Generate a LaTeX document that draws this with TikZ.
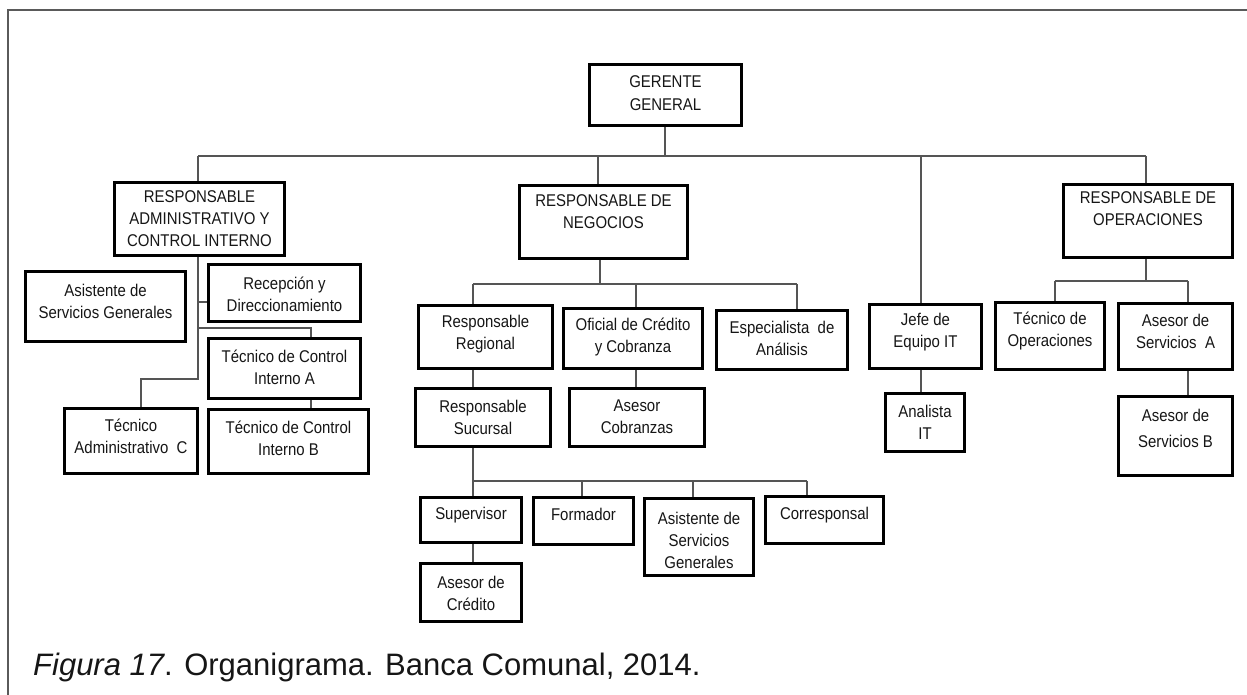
\documentclass[tikz,border=0pt]{standalone}
\usepackage{fontspec}
\setmainfont{Liberation Sans}
\newfontfamily\boxfont{Liberation Sans}[FakeStretch=0.88]
\definecolor{inkc}{HTML}{161616}
\definecolor{linec}{HTML}{555555}
\definecolor{framec}{HTML}{5A5A5A}

\tikzset{
  obox/.style={rectangle, draw=black, line width=3.2pt, fill=white, inner sep=0pt},
  otext/.style={inner sep=0pt, align=center, text=inkc,
                font=\boxfont\fontsize{17}{22}\selectfont},
  conn/.style={draw=linec, line width=1.4pt},
  frameline/.style={draw=framec, line width=1.5pt}
}

% \orgbox{name}{x1}{y1}{x2}{y2}{text y}{text}
\newcommand\orgbox[7]{%
  \node[obox, minimum width={(#4-#2-3.2)*1pt}, minimum height={(#5-#3-3.2)*1pt}]
    (#1) at ({(#2+#4)/2},{(#3+#5)/2}) {};
  \node[otext] (#1t) at ({(#2+#4)/2},#6) {#7};
}

\begin{document}
\begin{tikzpicture}[x=1pt,y=-1pt]
\useasboundingbox (0,0) rectangle (1247,695);

% page frame
\draw[frameline] (8,695) -- (8,10) -- (1247,10);

% connector points
\coordinate (gb) at (665,156);
\coordinate (bA) at (198,156);
\coordinate (bN) at (598,156);
\coordinate (bJ) at (921,156);
\coordinate (bO) at (1146,156);

\coordinate (aR) at (198,302);
\coordinate (aT) at (198,328);
\coordinate (aC) at (198,379);
\coordinate (kT) at (311,328);
\coordinate (kC) at (141,379);

\coordinate (nB) at (600,284);
\coordinate (nb1) at (473,284);
\coordinate (nb2) at (636,284);
\coordinate (nb3) at (797,284);

\coordinate (sB) at (473,481);
\coordinate (sb2) at (582,481);
\coordinate (sb3) at (693,481);
\coordinate (sb4) at (807,481);

\coordinate (oB) at (1146,281);
\coordinate (o1) at (1055,281);
\coordinate (o2) at (1188,281);

% connectors
\draw[conn] (bA) -- (bO);
\draw[conn] (gb) -- (gb |- 0,127);
\draw[conn] (bA) -- (bA |- 0,181);
\draw[conn] (bN) -- (bN |- 0,184);
\draw[conn] (bJ) -- (bJ |- 0,303);
\draw[conn] (bO) -- (bO |- 0,183);

\draw[conn] (bA |- 0,257) -- (aC) -- (kC) -- (kC |- 0,407);
\draw[conn] (aR) -- (aR -| 207,0);
\draw[conn] (aT) -- (kT) -- (kT |- 0,337);
\draw[conn] (kT |- 0,400) -- (kT |- 0,408);

\draw[conn] (nB |- 0,260) -- (nB);
\draw[conn] (nb1) -- (nb3);
\draw[conn] (nb1) -- (nb1 |- 0,304);
\draw[conn] (nb2) -- (nb2 |- 0,307);
\draw[conn] (nb3) -- (nb3 |- 0,309);
\draw[conn] (nb1 |- 0,370) -- (nb1 |- 0,387);
\draw[conn] (nb2 |- 0,370) -- (nb2 |- 0,387);

\draw[conn] (sB |- 0,448) -- (sB) -- (sb4);
\draw[conn] (sB) -- (sB |- 0,496);
\draw[conn] (sb2) -- (sb2 |- 0,496);
\draw[conn] (sb3) -- (sb3 |- 0,497);
\draw[conn] (sb4) -- (sb4 |- 0,495);
\draw[conn] (sB |- 0,544) -- (sB |- 0,562);

\draw[conn] (bJ |- 0,370) -- (bJ |- 0,392);

\draw[conn] (oB |- 0,259) -- (oB);
\draw[conn] (o1) -- (o2);
\draw[conn] (o1) -- (o1 |- 0,301);
\draw[conn] (o2) -- (o2 |- 0,302);
\draw[conn] (o2 |- 0,371) -- (o2 |- 0,395);

% boxes
\orgbox{ger}{588}{63}{743}{127}{93.5}{GERENTE\\[1pt]GENERAL}
\orgbox{adm}{113}{181}{286}{257}{219}{RESPONSABLE\\ADMINISTRATIVO Y\\CONTROL INTERNO}
\orgbox{neg}{518}{184}{689}{260}{212}{RESPONSABLE DE\\NEGOCIOS}
\orgbox{ope}{1062}{183}{1234}{259}{209}{RESPONSABLE DE\\OPERACIONES}
\orgbox{jef}{868}{303}{983}{370}{332.5}{Jefe de\\Equipo IT}
\orgbox{ana}{884}{392}{966}{453}{422.5}{Analista\\IT}

\orgbox{asg}{24}{270}{187}{343}{301.5}{Asistente de\\Servicios Generales}
\orgbox{rec}{207}{263}{362}{323}{294}{Recepción y\\Direccionamiento}
\orgbox{tcA}{207}{337}{362}{400}{367}{Técnico de Control\\Interno A}
\orgbox{tcB}{207}{408}{370}{475}{438}{Técnico de Control\\Interno B}
\orgbox{tac}{63}{407}{199}{475}{436.5}{Técnico\\Administrativo\ \ C}

\orgbox{reg}{417}{304}{554}{370}{334.5}{Responsable\\Regional}
\orgbox{ofi}{562}{307}{704}{370}{337.5}{Oficial de Crédito\\y Cobranza}
\orgbox{esp}{715}{309}{849}{371}{338.5}{Especialista\ \ de\\Análisis}
\orgbox{suc}{414}{387}{552}{448}{417}{Responsable\\Sucursal}
\orgbox{cob}{568}{387}{706}{448}{417}{Asesor\\Cobranzas}

\orgbox{sup}{419}{496}{523}{544}{515}{Supervisor}
\orgbox{for}{532}{496}{635}{546}{514}{Formador}
\orgbox{asv}{643}{497}{755}{577}{540}{Asistente de\\Servicios\\Generales}
\orgbox{cor}{764}{495}{885}{545}{515}{Corresponsal}
\orgbox{acr}{419}{562}{523}{623}{593.5}{Asesor de\\Crédito}

\orgbox{top}{994}{301}{1106}{371}{331}{Técnico de\\Operaciones}
\orgbox{saA}{1117}{302}{1234}{371}{331}{Asesor de\\Servicios\ \ A}
\orgbox{saB}{1117}{395}{1234}{477}{428.5}{Asesor de\\[4pt]Servicios B}

% caption
\node[anchor=base west, inner sep=0pt, text=inkc,
      font=\fontsize{31}{36}\selectfont] (cap) at (33,675)
  {\textit{Figura 17}. Organigrama. Banca Comunal, 2014.};
\end{tikzpicture}
\end{document}
